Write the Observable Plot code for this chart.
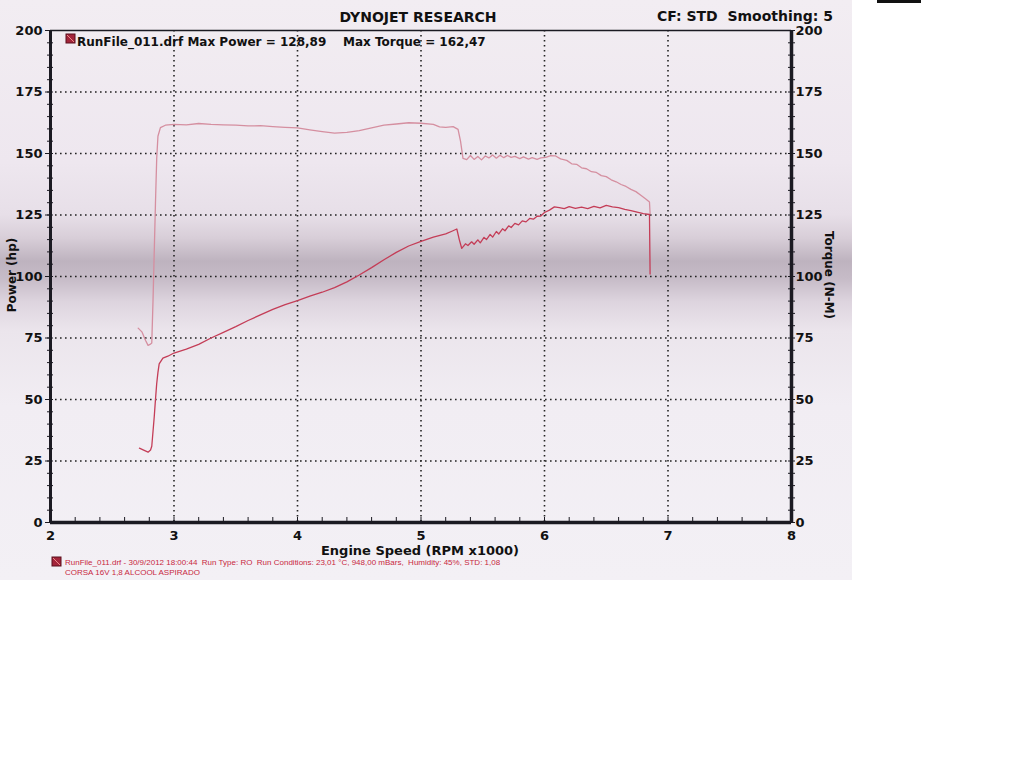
<!DOCTYPE html>
<html><head><meta charset="utf-8">
<script src="https://cdn.jsdelivr.net/npm/d3@7"></script>
<script src="https://cdn.jsdelivr.net/npm/@observablehq/plot@0.6"></script>
<style>
body{margin:0;background:#fff;width:1024px;height:768px;position:relative;overflow:hidden;}
#scan{position:absolute;left:0;top:0;width:852px;height:580px;
background:linear-gradient(to bottom,#f2edf2 0%,#eee7ef 28%,#e7dfe8 37%,#d8ced8 41%,#beb3bf 45%,#c6bbc7 48%,#ddd4de 52%,#ebe5ec 57%,#f1edf3 70%,#f3f0f5 100%);}
#artifact{position:absolute;left:877px;top:0;width:44px;height:3px;background:#111;}
#chart{position:absolute;left:0;top:0;}
#over{position:absolute;left:0;top:0;}
</style></head><body>
<div id="scan"></div>
<div id="artifact"></div>
<div id="chart"></div>
<svg id="over" width="852" height="600" font-family="DejaVu Sans, Verdana, sans-serif" font-weight="bold" fill="#111">
  <text x="418" y="22" text-anchor="middle" font-size="14">DYNOJET RESEARCH</text>
  <text x="833" y="21" text-anchor="end" font-size="14" xml:space="preserve">CF: STD  Smoothing: 5</text>
  <rect x="66" y="34" width="9" height="9" fill="#a3243a" stroke="#5a0f1c" stroke-width="1"/>
  <line x1="67" y1="35" x2="74" y2="42" stroke="#e88" stroke-width="1"/>
  <text x="77" y="46" font-size="12" xml:space="preserve">RunFile_011.drf Max Power = 128,89    Max Torque = 162,47</text>
  <text x="420" y="555" text-anchor="middle" font-size="13">Engine Speed (RPM x1000)</text>
  <text transform="translate(16,275) rotate(-90)" text-anchor="middle" font-size="12">Power (hp)</text>
  <text transform="translate(825,275) rotate(90)" text-anchor="middle" font-size="12">Torque (N-M)</text>
  <rect x="52" y="557" width="9" height="9" fill="#a3243a" stroke="#5a0f1c" stroke-width="1"/>
  <line x1="53" y1="558" x2="60" y2="565" stroke="#e88" stroke-width="1"/>
  <text x="65" y="565" font-size="8" font-weight="normal" font-family="Liberation Sans, Arial, sans-serif" fill="#c8283f" xml:space="preserve">RunFile_011.drf - 30/9/2012 18:00:44  Run Type: RO  Run Conditions: 23,01 °C, 948,00 mBars,  Humidity: 45%, STD: 1,08</text>
  <text x="65" y="575" font-size="8" font-weight="normal" font-family="Liberation Sans, Arial, sans-serif" fill="#c8283f">CORSA 16V 1,8 ALCOOL ASPIRADO</text>
</svg>
<script>
// Torque (N-M) vs engine speed (RPM x1000)
const torqueRpm = [2.71,2.74,2.77,2.79,2.81,2.82,2.83,2.84,2.85,2.86,2.87,2.89,2.93,3.0,3.1,3.2,3.3,3.4,3.5,3.6,3.7,3.8,3.9,4.0,4.1,4.2,4.3,4.4,4.5,4.6,4.7,4.8,4.9,5.0,5.1,5.15,5.2,5.26,5.3,5.32,5.34,5.37,5.40,5.43,5.46,5.49,5.52,5.55,5.58,5.61,5.64,5.67,5.70,5.73,5.76,5.80,5.83,5.87,5.90,5.94,5.97,6.01,6.05,6.09,6.13,6.18,6.22,6.26,6.30,6.34,6.38,6.42,6.46,6.50,6.54,6.58,6.62,6.66,6.70,6.74,6.78,6.82,6.85,6.855];
const torqueVal = [79,77.5,74,72,72.5,73,90,110,130,148,157,160.5,161.5,161.8,161.6,162.2,161.8,161.6,161.5,161.2,161.3,160.9,160.6,160.4,159.6,158.9,158.3,158.6,159.3,160.4,161.5,162.0,162.5,162.3,161.8,160.8,160.6,160.9,159.8,155,148,147.5,149.2,147.6,148.8,147.4,149,148.2,149.4,148.1,149.3,148.3,149.2,148.4,148.8,147.9,148.6,147.7,148.3,147.6,148.2,148.4,149.1,149.0,147.8,147.2,145.8,145.6,144.2,143.8,142.6,142.3,141.0,140.6,139.3,138.5,137.4,136.6,135.4,134.5,133.0,131.5,130.3,125.5];
// Power (hp) vs engine speed
const powerRpm = [2.72,2.75,2.79,2.81,2.82,2.83,2.84,2.85,2.86,2.87,2.88,2.91,2.95,3.0,3.1,3.2,3.3,3.4,3.5,3.6,3.7,3.8,3.9,4.0,4.1,4.2,4.3,4.4,4.5,4.6,4.7,4.8,4.9,5.0,5.1,5.2,5.25,5.29,5.31,5.33,5.36,5.38,5.41,5.43,5.46,5.48,5.51,5.53,5.56,5.58,5.61,5.63,5.66,5.68,5.71,5.73,5.76,5.79,5.82,5.85,5.88,5.91,5.94,5.97,6.00,6.04,6.08,6.12,6.16,6.20,6.25,6.30,6.35,6.40,6.45,6.50,6.55,6.60,6.65,6.70,6.75,6.80,6.85,6.855];
const powerVal = [30.2,29.5,28.6,29.5,31,37,43,50,56.5,61,64.5,66.8,67.6,68.9,70.5,72.4,75.0,77.3,79.6,82.1,84.4,86.6,88.6,90.2,92.0,93.6,95.5,97.8,100.6,103.6,106.8,109.8,112.4,114.3,116.0,117.3,118.4,119.3,115,111.4,113.3,112.6,114.1,113.1,114.9,113.7,115.9,115.0,117.1,116.0,118.3,117.3,119.4,118.6,120.6,119.9,121.6,121.0,122.6,122.2,123.6,123.3,124.5,124.6,126.0,127.0,128.3,128.0,127.6,128.4,127.7,128.2,127.6,128.5,127.9,128.9,128.3,128.0,127.3,126.8,126.2,125.6,125.2,101];

const xMajor = [2,3,4,5,6,7,8];
const xGrid = [3,4,5,6,7];
const yMajor = [0,25,50,75,100,125,150,175,200];
const yGrid = [25,50,75,100,125,150,175];

const torque = torqueRpm.map((r,i)=>({rpm:r, v:torqueVal[i]}));
const power = powerRpm.map((r,i)=>({rpm:r, v:powerVal[i]}));
const xMinor = d3.range(2, 8.001, 0.2).map(d=>+d.toFixed(1));
const yMinor = d3.range(0, 201, 5);
const axisColor = "#1b1a22";

const chart = Plot.plot({
  width: 852, height: 580,
  marginLeft: 50, marginRight: 61, marginTop: 30, marginBottom: 58,
  style: {background: "transparent", fontFamily: "DejaVu Sans, Verdana, sans-serif", fontWeight: "bold", fontSize: "13px", color: "#111"},
  x: {domain: [2, 8]},
  y: {domain: [0, 200]},
  marks: [
    Plot.ruleX(xGrid, {stroke: "#222", strokeWidth: 1.6, strokeDasharray: "1.6 3.4"}),
    Plot.ruleY(yGrid, {stroke: "#222", strokeWidth: 1.6, strokeDasharray: "1.6 3.4"}),
    Plot.line(torque, {x: "rpm", y: "v", stroke: "#d58fa0", strokeWidth: 1.3}),
    Plot.line(power, {x: "rpm", y: "v", stroke: "#c43d57", strokeWidth: 1.3}),
    Plot.ruleY([200], {stroke: axisColor, strokeWidth: 1.6}),
    Plot.ruleX([2], {stroke: axisColor, strokeWidth: 3}),
    Plot.ruleX([8], {stroke: axisColor, strokeWidth: 3.5}),
    Plot.ruleY([0], {stroke: axisColor, strokeWidth: 3.5}),
    Plot.axisY(yMinor, {anchor: "left", tickSize: 3, tickFormat: () => "", label: null, stroke: axisColor}),
    Plot.axisY(yMinor, {anchor: "left", tickSize: -3, tickFormat: () => "", label: null, stroke: axisColor}),
    Plot.axisY(yMajor, {anchor: "left", tickSize: 5, tickPadding: 3, tickFormat: d => String(d), label: null, stroke: axisColor}),
    Plot.axisY(yMinor, {anchor: "right", tickSize: 3, tickFormat: () => "", label: null, stroke: axisColor}),
    Plot.axisY(yMinor, {anchor: "right", tickSize: -4, tickFormat: () => "", label: null, stroke: axisColor}),
    Plot.axisY(yMajor, {anchor: "right", tickSize: 0, tickPadding: 4, tickFormat: d => String(d), label: null}),
    Plot.axisX(xMinor, {anchor: "bottom", tickSize: -5, tickFormat: () => "", label: null, stroke: axisColor}),
    Plot.axisX(xMajor, {anchor: "bottom", tickSize: 0, tickPadding: 8, tickFormat: d => String(d), label: null})
  ]
});
document.getElementById("chart").append(chart);
</script>
</body></html>
